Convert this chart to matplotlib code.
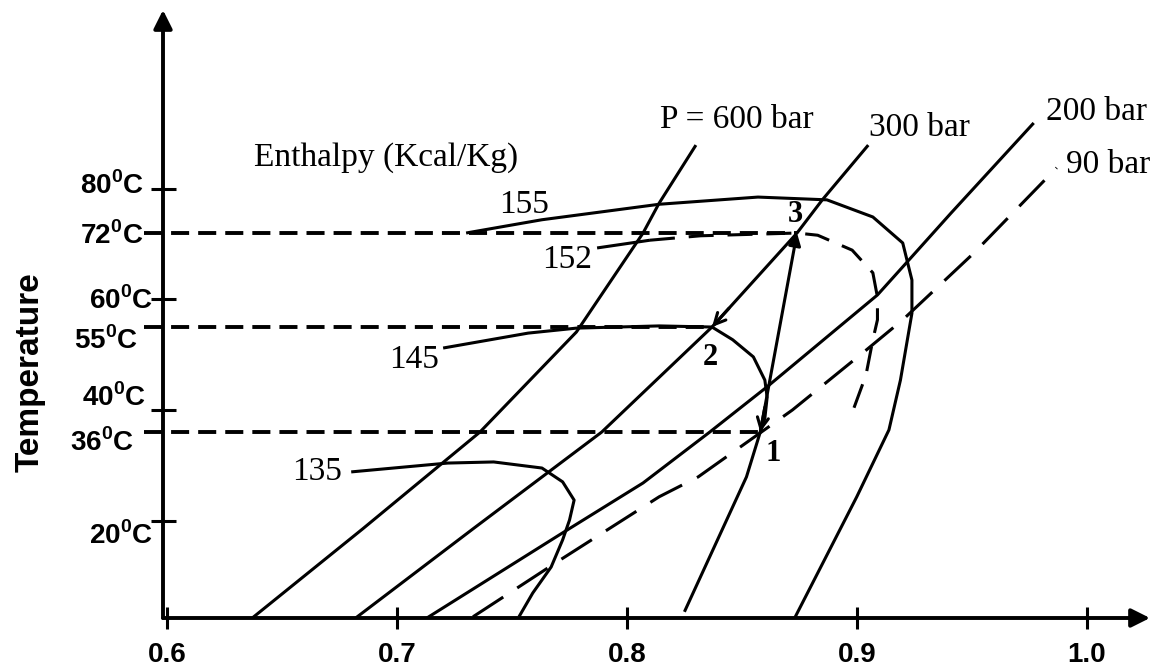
import matplotlib
matplotlib.use("Agg")
import matplotlib.pyplot as plt
import matplotlib.transforms as mtransforms

# --- data (x axis value, temperature in deg C) ---
# isobars
p600_x = [0.637, 0.685, 0.736, 0.778, 0.807, 0.814, 0.830]
p600_t = [2.4, 18.5, 36.0, 54.1, 72.0, 77.4, 87.9]

p300_x = [0.682, 0.733, 0.789, 0.837, 0.874, 0.885, 0.905]
p300_t = [2.4, 18.5, 36.0, 55.0, 72.0, 78.0, 87.9]

p200_x = [0.713, 0.774, 0.807, 0.836, 0.861, 0.909, 0.922, 0.941, 0.977]
p200_t = [2.4, 18.3, 26.8, 36.0, 44.2, 60.8, 66.8, 75.6, 91.9]

p90_x = [0.733, 0.771, 0.814, 0.831, 0.872, 0.904, 0.920, 0.951, 0.987]
p90_t = [2.6, 12.9, 24.3, 27.9, 40.0, 50.8, 56.3, 68.4, 83.8]

# enthalpy lines (Kcal/Kg)
h155_x = [0.730, 0.763, 0.814, 0.857, 0.887, 0.907, 0.920, 0.924, 0.924, 0.919, 0.914, 0.900, 0.873]
h155_t = [72.0, 74.4, 77.2, 78.5, 78.0, 74.9, 70.2, 63.5, 57.5, 45.4, 36.4, 24.3, 2.4]

h152_x = [0.787, 0.810, 0.832, 0.874, 0.883, 0.898, 0.907, 0.909, 0.909, 0.907, 0.904, 0.898]
h152_t = [69.3, 70.7, 71.5, 72.0, 71.6, 68.9, 64.8, 60.4, 56.3, 52.7, 46.3, 39.5]

h145_x = [0.720, 0.757, 0.778, 0.814, 0.837, 0.846, 0.855, 0.860, 0.861, 0.860, 0.858, 0.852, 0.825]
h145_t = [51.2, 53.9, 54.8, 55.2, 55.0, 52.7, 49.6, 45.4, 42.3, 38.5, 36.0, 27.9, 3.5]

h135_x = [0.680, 0.722, 0.742, 0.763, 0.772, 0.777, 0.775, 0.772, 0.767, 0.759, 0.753]
h135_t = [28.8, 30.4, 30.6, 29.5, 27.0, 23.7, 20.1, 16.5, 11.6, 6.9, 2.6]

# cycle state points 1, 2, 3
cycle_x = [0.858, 0.837, 0.874]
cycle_t = [36.0, 55.0, 72.0]

y_ticks = [20, 36, 40, 55, 60, 72, 80]
x_ticks = [0.6, 0.7, 0.8, 0.9, 1.0]

plt.rcParams['font.family'] = ['Liberation Sans', 'DejaVu Sans']
plt.rcParams['mathtext.fontset'] = 'custom'
plt.rcParams['mathtext.bf'] = 'Liberation Sans:bold'
plt.rcParams['mathtext.rm'] = 'Liberation Sans:bold'
plt.rcParams['lines.scale_dashes'] = False

serif = ['Liberation Serif', 'DejaVu Serif']
LW = 2.2

fig = plt.figure(figsize=(11.57, 6.67), dpi=100)
ax = fig.add_axes([163 / 1157, 49 / 667, 987 / 1157, 608 / 667])
ax.set_xlim(0.5981, 1.0276)
ax.set_ylim(2.38, 112.33)
for s in ax.spines.values():
    s.set_visible(False)

# axes drawn as arrows
arrow_kw = dict(arrowstyle='-|>', lw=2.8, color='k', mutation_scale=28,
                shrinkA=0, shrinkB=0)
ax.annotate('', xy=(1, 0), xytext=(0, 0), xycoords='axes fraction',
            arrowprops=arrow_kw, annotation_clip=False)
ax.annotate('', xy=(0, 1), xytext=(0, 0), xycoords='axes fraction',
            arrowprops=arrow_kw, annotation_clip=False)

ax.set_xticks(x_ticks)
ax.set_xticklabels([f"{v:.1f}" for v in x_ticks], fontsize=20, fontweight='bold')
ax.set_yticks(y_ticks)
ax.set_yticklabels([f"{v}$^\\mathbf{{0}}$C" for v in y_ticks], fontsize=20, fontweight='bold')
ax.tick_params(axis='x', direction='inout', length=16, width=2.2, pad=9)
ax.tick_params(axis='y', direction='inout', length=18, width=2.2, pad=1)

# hand-placed look of the y labels (pixel nudges, as in the drawing)
nudge = {80: (-5, 6), 72: (-6, 0), 60: (4, 2), 55: (-11, -11),
         40: (-3, 15), 36: (-15, -8), 20: (4, -12)}
for tick, val in zip(ax.yaxis.get_major_ticks(), y_ticks):
    dx, dy = nudge[val]
    off = mtransforms.ScaledTranslation(dx / 100, dy / 100, fig.dpi_scale_trans)
    tick.label1.set_transform(tick.label1.get_transform() + off)
    if val in cycle_t:
        tick.tick1line.set_visible(False)

fig.text(30 / 1157, 1 - 372 / 667, 'Temperature', rotation=90, fontsize=24,
         fontweight='bold', ha='center', va='center')

# isobars
line_kw = dict(color='k', lw=LW, solid_joinstyle='round', solid_capstyle='butt')
ax.plot(p600_x, p600_t, **line_kw)
ax.plot(p300_x, p300_t, **line_kw)
ax.plot(p200_x, p200_t, **line_kw)
ax.plot(p90_x, p90_t, color='k', lw=LW, dashes=(26, 12))

# enthalpy lines
ax.plot(h155_x, h155_t, **line_kw)
ax.plot(h152_x[:2], h152_t[:2], **line_kw)
ax.plot(h152_x[1:], h152_t[1:], color='k', lw=LW, dashes=(18, 10))
ax.plot(h145_x, h145_t, **line_kw)
ax.plot(h135_x, h135_t, **line_kw)

# horizontal guide lines to the state points
for cx, ct in zip(cycle_x, cycle_t):
    ax.plot([0.590, cx], [ct, ct], color='k', lw=2.8, dashes=(13, 6.5), clip_on=False)

# cycle: 1 -> 3 straight, 3 -> 2 along 300 bar, 2 -> 1 along 145 line
ax.annotate('', xy=(cycle_x[2], cycle_t[2]), xytext=(cycle_x[0], cycle_t[0]),
            arrowprops=dict(arrowstyle='-|>', lw=LW, color='k', mutation_scale=18,
                            shrinkA=0, shrinkB=0))
head_kw = dict(arrowstyle='->', lw=LW, color='k', mutation_scale=20, shrinkA=0, shrinkB=0)
ax.annotate('', xy=(cycle_x[1], cycle_t[1]),
            xytext=(cycle_x[1] + 0.2 * (cycle_x[2] - cycle_x[1]),
                    cycle_t[1] + 0.2 * (cycle_t[2] - cycle_t[1])),
            arrowprops=head_kw)
ax.annotate('', xy=(cycle_x[0], cycle_t[0]), xytext=(h145_x[9], h145_t[9] + 2),
            arrowprops=head_kw)

# text labels
ax.text(0.6951, 85.7, 'Enthalpy (Kcal/Kg)', family=serif, fontsize=24, ha='center', va='center')
ax.text(0.8479, 92.4, 'P = 600 bar', family=serif, fontsize=24, ha='center', va='center')
ax.text(0.9271, 91.0, '300 bar', family=serif, fontsize=24, ha='center', va='center')
ax.text(1.0045, 93.9, '200 bar', family=serif, fontsize=24, ha='center', va='center')
ax.text(1.0093, 84.3, '90 bar', family=serif, fontsize=24, ha='center', va='center')
ax.text(0.7552, 77.1, '155', family=serif, fontsize=24, ha='center', va='center')
ax.text(0.7739, 67.1, '152', family=serif, fontsize=24, ha='center', va='center')
ax.text(0.7073, 49.0, '145', family=serif, fontsize=24, ha='center', va='center')
ax.text(0.6651, 28.8, '135', family=serif, fontsize=24, ha='center', va='center')
ax.text(0.8731, 75.3, '3', family=serif, fontsize=22, fontweight='bold', ha='center', va='center')
ax.text(0.8361, 49.4, '2', family=serif, fontsize=22, fontweight='bold', ha='center', va='center')
ax.text(0.8635, 32.2, '1', family=serif, fontsize=22, fontweight='bold', ha='center', va='center')

fig.savefig('out.png', dpi=100)
